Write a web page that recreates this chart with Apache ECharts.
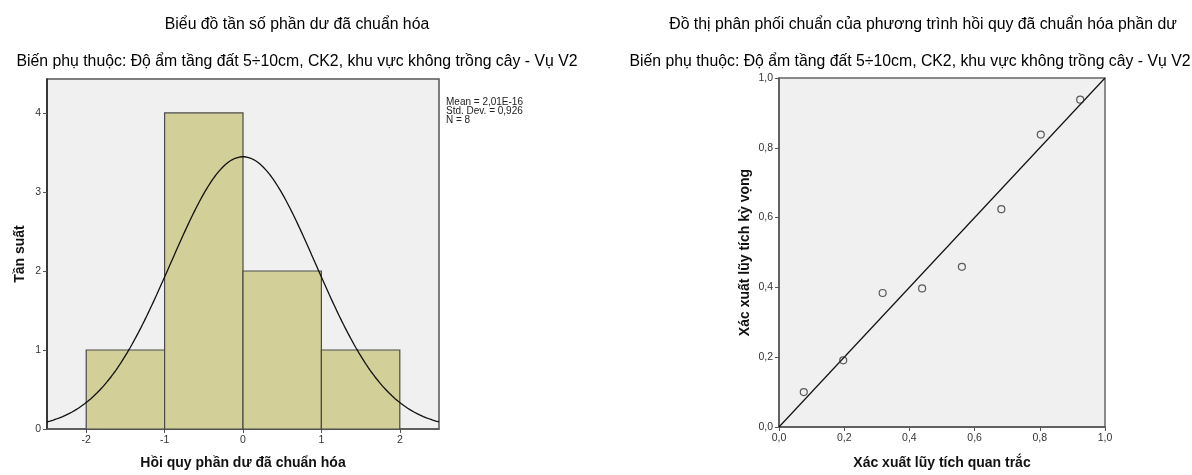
<!DOCTYPE html>
<html>
<head>
<meta charset="utf-8">
<script src="https://cdn.jsdelivr.net/npm/echarts@6/dist/echarts.min.js"></script>
<style>
html,body{margin:0;padding:0;background:#fff;}
#c{width:1192px;height:475px;}
</style>
</head>
<body>
<div id="c"></div>
<script>
// ---- Data ----
const binStarts = [-2, -1, 0, 1];
const binEnds = [-1, 0, 1, 2];
const binCounts = [1, 4, 2, 1];
const histXTicks = [-2, -1, 0, 1, 2];
const histYTicks = [0, 1, 2, 3, 4];
const statMean = 2.01e-16;
const statSd = 0.926;
const statN = 8;
const statLines = ['Mean = 2,01E-16', 'Std. Dev. = 0,926', 'N = 8'];

const ppObserved = [0.076, 0.197, 0.318, 0.439, 0.561, 0.682, 0.803, 0.924];
const ppExpected = [0.100, 0.191, 0.384, 0.397, 0.459, 0.624, 0.838, 0.938];
const ppTicks = [0, 0.2, 0.4, 0.6, 0.8, 1.0];

const titleLeft = 'Biểu đồ tần số phần dư đã chuẩn hóa';
const titleRight = 'Đồ thị phân phối chuẩn của phương trình hồi quy đã chuẩn hóa phần dư';
const subTitle = 'Biến phụ thuộc: Độ ẩm tầng đất 5÷10cm, CK2, khu vực không trồng cây - Vụ V2';

// fitted normal curve from the displayed statistics (bin width 1)
function fittedNormal(mean, sd, n, width, from, to, step) {
  const pts = [];
  for (let x = from; x <= to + 1e-9; x += step) {
    const z = (x - mean) / sd;
    pts.push([x, n * width * Math.exp(-0.5 * z * z) / (sd * Math.sqrt(2 * Math.PI))]);
  }
  return pts;
}
const curve = fittedNormal(statMean, statSd, statN, 1, -2.5, 2.5, 0.02);

const FONT = 'Liberation Sans, Arial, sans-serif';
const chart = echarts.init(document.getElementById('c'), null, {renderer: 'canvas'});

const axisBase = {
  axisLine: {show: true, onZero: false, lineStyle: {color: '#555', width: 1.5}},
  axisTick: {show: true, inside: false, length: 4, lineStyle: {color: '#555'}},
  axisLabel: {color: '#333', fontSize: 10.5, fontFamily: FONT},
  splitLine: {show: false},
  nameTextStyle: {color: '#111', fontSize: 14, fontWeight: 'bold', fontFamily: FONT},
  nameLocation: 'middle'
};
const comma = v => v.toFixed(1).replace('.', ',');
const titleStyle = {fontSize: 15.8, fontWeight: 'normal', color: '#000', fontFamily: FONT};

chart.setOption({
  animation: false,
  backgroundColor: '#fff',
  title: [
    {text: titleLeft, left: 292, top: 12, textAlign: 'center', textStyle: titleStyle},
    {text: subTitle, left: 292, top: 49, textAlign: 'center', textStyle: titleStyle},
    {text: titleRight, left: 918, top: 12, textAlign: 'center', textStyle: titleStyle},
    {text: subTitle, left: 905, top: 49, textAlign: 'center', textStyle: titleStyle}
  ],
  graphic: [{
    type: 'text', left: 446, top: 97,
    style: {text: statLines.join('\n'), fontSize: 10, lineHeight: 9, fill: '#222', fontFamily: FONT}
  }],
  grid: [
    {left: 47, top: 79, width: 392, height: 351, show: true, backgroundColor: '#f0f0f0', borderColor: '#555', borderWidth: 1.5},
    {left: 779, top: 78, width: 326, height: 352, show: true, backgroundColor: '#f0f0f0', borderColor: '#666', borderWidth: 1.5}
  ],
  xAxis: [
    Object.assign({}, axisBase, {
      type: 'value', gridIndex: 0, min: -2.5, max: 2.5,
      name: 'Hồi quy phần dư đã chuẩn hóa', nameGap: 27,
      axisTick: Object.assign({}, axisBase.axisTick, {customValues: histXTicks}),
      axisLabel: Object.assign({}, axisBase.axisLabel, {customValues: histXTicks, margin: 6})
    }),
    Object.assign({}, axisBase, {
      type: 'value', gridIndex: 1, min: 0, max: 1, interval: 0.2,
      name: 'Xác xuất lũy tích quan trắc', nameGap: 29,
      axisLabel: Object.assign({}, axisBase.axisLabel, {formatter: comma, margin: 6})
    })
  ],
  yAxis: [
    Object.assign({}, axisBase, {
      type: 'value', gridIndex: 0, min: 0, max: 4.43,
      name: 'Tần suất', nameGap: 20,
      axisLine: {show: true, onZero: false, lineStyle: {color: '#222', width: 1.5}},
      axisTick: Object.assign({}, axisBase.axisTick, {customValues: histYTicks}),
      axisLabel: Object.assign({}, axisBase.axisLabel, {customValues: histYTicks, margin: 6})
    }),
    Object.assign({}, axisBase, {
      type: 'value', gridIndex: 1, min: 0, max: 1, interval: 0.2,
      name: 'Xác xuất lũy tích kỳ vọng', nameGap: 27,
      axisLabel: Object.assign({}, axisBase.axisLabel, {formatter: comma, margin: 6})
    })
  ],
  series: [
    {
      type: 'custom', xAxisIndex: 0, yAxisIndex: 0,
      data: binCounts.map((c, i) => [binStarts[i], binEnds[i], c]),
      renderItem: function (params, api) {
        const p0 = api.coord([api.value(0), api.value(2)]);
        const p1 = api.coord([api.value(1), 0]);
        return {
          type: 'rect',
          shape: {x: p0[0], y: p0[1], width: p1[0] - p0[0], height: p1[1] - p0[1]},
          style: {fill: '#d3cf98', stroke: '#4a4a4a', lineWidth: 1.2}
        };
      },
      z: 2
    },
    {
      type: 'line', xAxisIndex: 0, yAxisIndex: 0, data: curve,
      showSymbol: false, symbol: 'none', smooth: false,
      lineStyle: {color: '#111', width: 1.3}, z: 3, clip: true
    },
    {
      type: 'line', xAxisIndex: 1, yAxisIndex: 1, data: [[0, 0], [1, 1]],
      symbol: 'none', lineStyle: {color: '#111', width: 1.2}, z: 3
    },
    {
      type: 'scatter', xAxisIndex: 1, yAxisIndex: 1,
      data: ppObserved.map((x, i) => [x, ppExpected[i]]),
      symbol: 'circle', symbolSize: 7,
      itemStyle: {color: 'rgba(0,0,0,0)', borderColor: '#333', borderWidth: 1.2}, z: 4
    }
  ]
});
</script>
</body>
</html>
